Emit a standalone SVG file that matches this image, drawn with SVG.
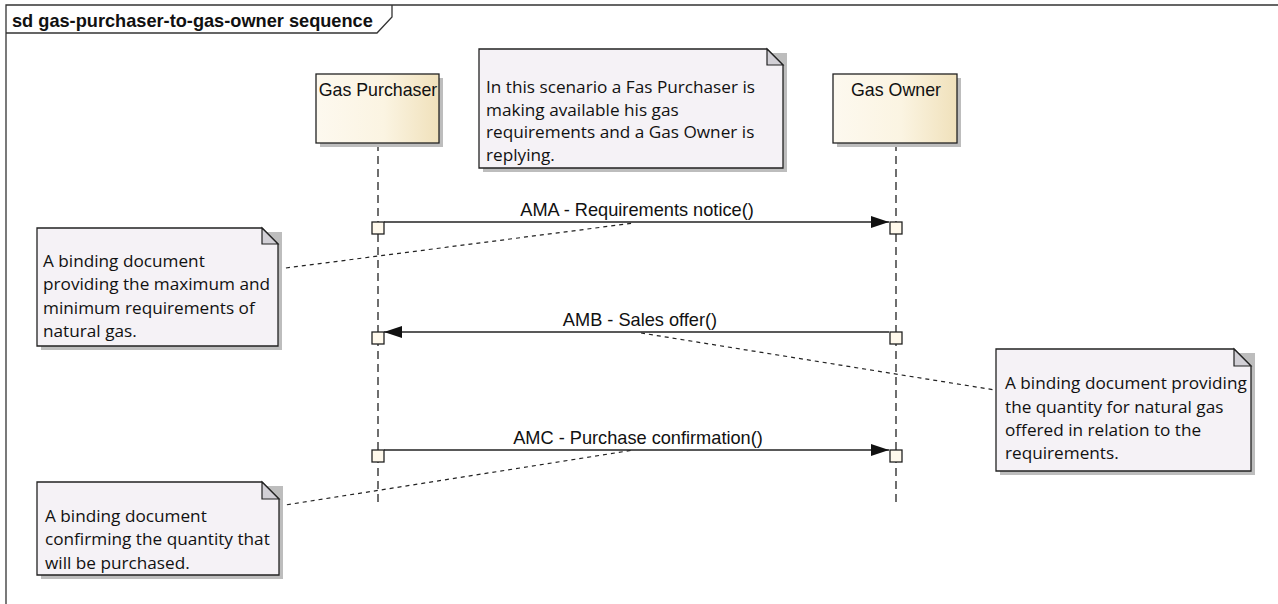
<svg xmlns="http://www.w3.org/2000/svg" width="1278" height="604" viewBox="0 0 1278 604">
<defs>
<linearGradient id="actorGrad" x1="0" y1="0" x2="1" y2="0">
<stop offset="0" stop-color="#FDF9EF"/>
<stop offset="0.55" stop-color="#FBF4E2"/>
<stop offset="1" stop-color="#F0E1BB"/>
</linearGradient>
<marker id="arrow" viewBox="0 0 18 12" refX="18" refY="6" markerWidth="18" markerHeight="12" markerUnits="userSpaceOnUse" orient="auto">
<path d="M0,0 L18,6 L0,12 Z" fill="#111"/>
</marker>
<style>
.frame{fill:none;stroke:#333;stroke-width:1.3}
.title{font-family:"Liberation Sans",Arial,sans-serif;font-weight:bold;font-size:18.2px;fill:#111}
.actor{fill:url(#actorGrad);stroke:#222;stroke-width:1.3}
.shadow{fill:#BDBDBD}
.aname{font-family:"Liberation Sans",Arial,sans-serif;font-size:17.8px;fill:#111;text-anchor:middle}
.life{stroke:#222;stroke-width:1.3;stroke-dasharray:8,5;fill:none}
.act{fill:#FFF9EC;stroke:#222;stroke-width:1.3}
.msg{stroke:#222;stroke-width:1.4;fill:none}
.mlabel{font-family:"Liberation Sans",Arial,sans-serif;font-size:18.2px;fill:#111;text-anchor:middle}
.note{fill:#F5F2F6;stroke:#222;stroke-width:1.3}
.fold{fill:#D2D0D6;stroke:#222;stroke-width:1.2}
.ntext{font-family:"Open Sans","Noto Sans",sans-serif;font-size:17.2px;fill:#111}
.link{stroke:#222;stroke-width:1.2;stroke-dasharray:4,4;fill:none}
</style>
</defs>
<rect width="1278" height="604" fill="#FFFFFF"/>

<g id="frame">
<path class="frame" d="M6,604 L6,5 L1278,5"/>
<path class="frame" d="M6,33 L377,33 L392,17 L392,5"/>
<text class="title" x="12" y="27">sd gas-purchaser-to-gas-owner sequence</text>
</g>

<g id="connectors">
<line class="life" x1="378" y1="143" x2="378" y2="505"/>
<line class="life" x1="896" y1="143" x2="896" y2="505"/>
<line class="msg" x1="384" y1="222" x2="889" y2="222" marker-end="url(#arrow)"/>
<text class="mlabel" x="637" y="216">AMA - Requirements notice()</text>
<line class="msg" x1="889" y1="332" x2="384" y2="332" marker-end="url(#arrow)"/>
<text class="mlabel" x="640" y="326">AMB - Sales offer()</text>
<line class="msg" x1="384" y1="450" x2="889" y2="450" marker-end="url(#arrow)"/>
<text class="mlabel" x="638" y="444">AMC - Purchase confirmation()</text>
<line class="link" x1="278" y1="269" x2="634" y2="223"/>
<line class="link" x1="641" y1="333" x2="995" y2="390"/>
<line class="link" x1="279" y1="506" x2="634" y2="450"/>
</g>

<g id="activations">
<rect class="act" x="372" y="222" width="12" height="12"/>
<rect class="act" x="890" y="222" width="12" height="12"/>
<rect class="act" x="372" y="332" width="12" height="12"/>
<rect class="act" x="890" y="332" width="12" height="12"/>
<rect class="act" x="372" y="450" width="12" height="12"/>
<rect class="act" x="890" y="450" width="12" height="12"/>
</g>

<g id="gas-purchaser">
<rect class="shadow" x="320" y="78" width="123" height="69"/>
<rect class="actor" x="316" y="74" width="123" height="69"/>
<text class="aname" x="378" y="96">Gas Purchaser</text>
</g>

<g id="gas-owner">
<rect class="shadow" x="837" y="78" width="124" height="69"/>
<rect class="actor" x="833" y="74" width="124" height="69"/>
<text class="aname" x="896" y="96">Gas Owner</text>
</g>

<g id="note-scenario">
<rect class="shadow" x="483" y="53" width="304" height="119"/>
<path class="note" d="M479,49 L767,49 L783,65 L783,168 L479,168 Z"/>
<path class="fold" d="M767,49 L767,65 L783,65 Z"/>
<text class="ntext" x="486" y="93">In this scenario a Fas Purchaser is</text>
<text class="ntext" x="486" y="115.5">making available his gas</text>
<text class="ntext" x="486" y="138">requirements and a Gas Owner is</text>
<text class="ntext" x="486" y="160.5">replying.</text>
</g>

<g id="note-ama">
<rect class="shadow" x="41" y="232" width="241" height="118"/>
<path class="note" d="M37,228 L262,228 L278,244 L278,346 L37,346 Z"/>
<path class="fold" d="M262,228 L262,244 L278,244 Z"/>
<text class="ntext" x="43" y="267">A binding document</text>
<text class="ntext" x="43" y="290.3">providing the maximum and</text>
<text class="ntext" x="43" y="313.6">minimum requirements of</text>
<text class="ntext" x="43" y="337">natural gas.</text>
</g>

<g id="note-amb">
<rect class="shadow" x="1000" y="353" width="255" height="122"/>
<path class="note" d="M996,349 L1234,349 L1251,366 L1251,471 L996,471 Z"/>
<path class="fold" d="M1234,349 L1234,366 L1251,366 Z"/>
<text class="ntext" x="1005" y="389.3">A binding document providing</text>
<text class="ntext" x="1005" y="412.6">the quantity for natural gas</text>
<text class="ntext" x="1005" y="436">offered in relation to the</text>
<text class="ntext" x="1005" y="459.3">requirements.</text>
</g>

<g id="note-amc">
<rect class="shadow" x="41" y="486" width="242" height="93"/>
<path class="note" d="M37,482 L262,482 L279,499 L279,575 L37,575 Z"/>
<path class="fold" d="M262,482 L262,499 L279,499 Z"/>
<text class="ntext" x="45" y="521.7">A binding document</text>
<text class="ntext" x="45" y="545.3">confirming the quantity that</text>
<text class="ntext" x="45" y="569">will be purchased.</text>
</g>
</svg>
